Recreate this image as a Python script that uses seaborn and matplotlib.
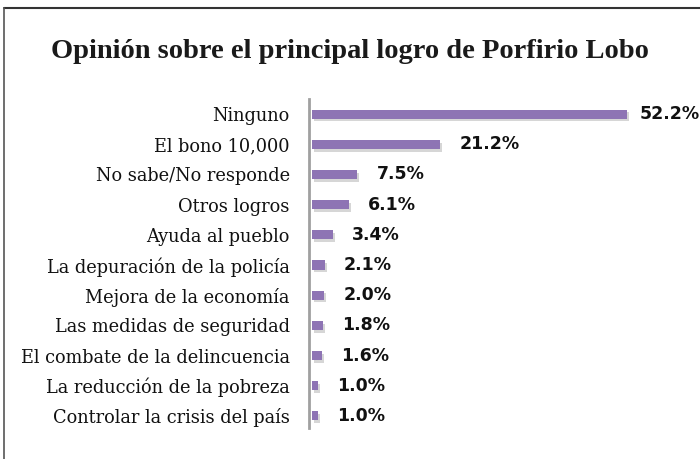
import matplotlib
matplotlib.use("Agg")
import matplotlib.pyplot as plt
import matplotlib.patheffects as pe
from matplotlib.lines import Line2D
import seaborn as sns
import pandas as pd

categories = [
    "Ninguno",
    "El bono 10,000",
    "No sabe/No responde",
    "Otros logros",
    "Ayuda al pueblo",
    "La depuración de la policía",
    "Mejora de la economía",
    "Las medidas de seguridad",
    "El combate de la delincuencia",
    "La reducción de la pobreza",
    "Controlar la crisis del país",
]
values = [52.2, 21.2, 7.5, 6.1, 3.4, 2.1, 2.0, 1.8, 1.6, 1.0, 1.0]
value_labels = ["52.2%", "21.2%", "7.5%", "6.1%", "3.4%", "2.1%", "2.0%",
                "1.8%", "1.6%", "1.0%", "1.0%"]

df = pd.DataFrame({"logro": categories, "pct": values})

sns.set_style("white")
fig = plt.figure(figsize=(7, 4.59), dpi=100)
ax = fig.add_axes([312 / 700, 1 - 428 / 459, 362 / 700, 329 / 459])

sns.barplot(data=df, y="logro", x="pct", orient="h", color="#8e74b4",
            saturation=1, width=0.3, ax=ax)

shadow = [pe.SimplePatchShadow(offset=(1.5, -2), shadow_rgbFace="#999999", alpha=0.4),
          pe.Normal()]
for bar in ax.patches:
    bar.set_path_effects(shadow)
    bar.set_edgecolor("none")

for i, (v, lab) in enumerate(zip(values, value_labels)):
    off = 9 if i == 0 else 14
    ax.annotate(lab, xy=(v, i), xytext=(off, 0), textcoords="offset points",
                ha="left", va="center", fontsize=12.5, fontweight="bold",
                family="DejaVu Sans", color="#111111", annotation_clip=False)

ax.set_xlim(0, 60)
ax.set_ylim(10.4, -0.5)
ax.set_xlabel("")
ax.set_ylabel("")
ax.set_xticks([])
for s in ["top", "right", "bottom"]:
    ax.spines[s].set_visible(False)
ax.spines["left"].set_color("#a0a0a0")
ax.spines["left"].set_linewidth(2)
ax.spines["left"].set_position(("outward", 2))
ax.tick_params(axis="y", length=0, pad=14)
for t in ax.get_yticklabels():
    t.set_fontfamily("DejaVu Serif")
    t.set_fontsize(12.8)
    t.set_color("#111111")

fig.text(0.5, 1 - 52 / 459, "Opinión sobre el principal logro de Porfirio Lobo",
         ha="center", va="center", fontsize=20.5, fontweight="bold",
         family="Liberation Serif", color="#1a1a1a")

# frame lines of the original slide
fig.add_artist(Line2D([4 / 700, 1], [1 - 8 / 459, 1 - 8 / 459],
                      transform=fig.transFigure, color="#333333", lw=1.5))
fig.add_artist(Line2D([4 / 700, 4 / 700], [0, 1 - 8 / 459],
                      transform=fig.transFigure, color="#555555", lw=1.2))

fig.savefig("out.png", dpi=100)
